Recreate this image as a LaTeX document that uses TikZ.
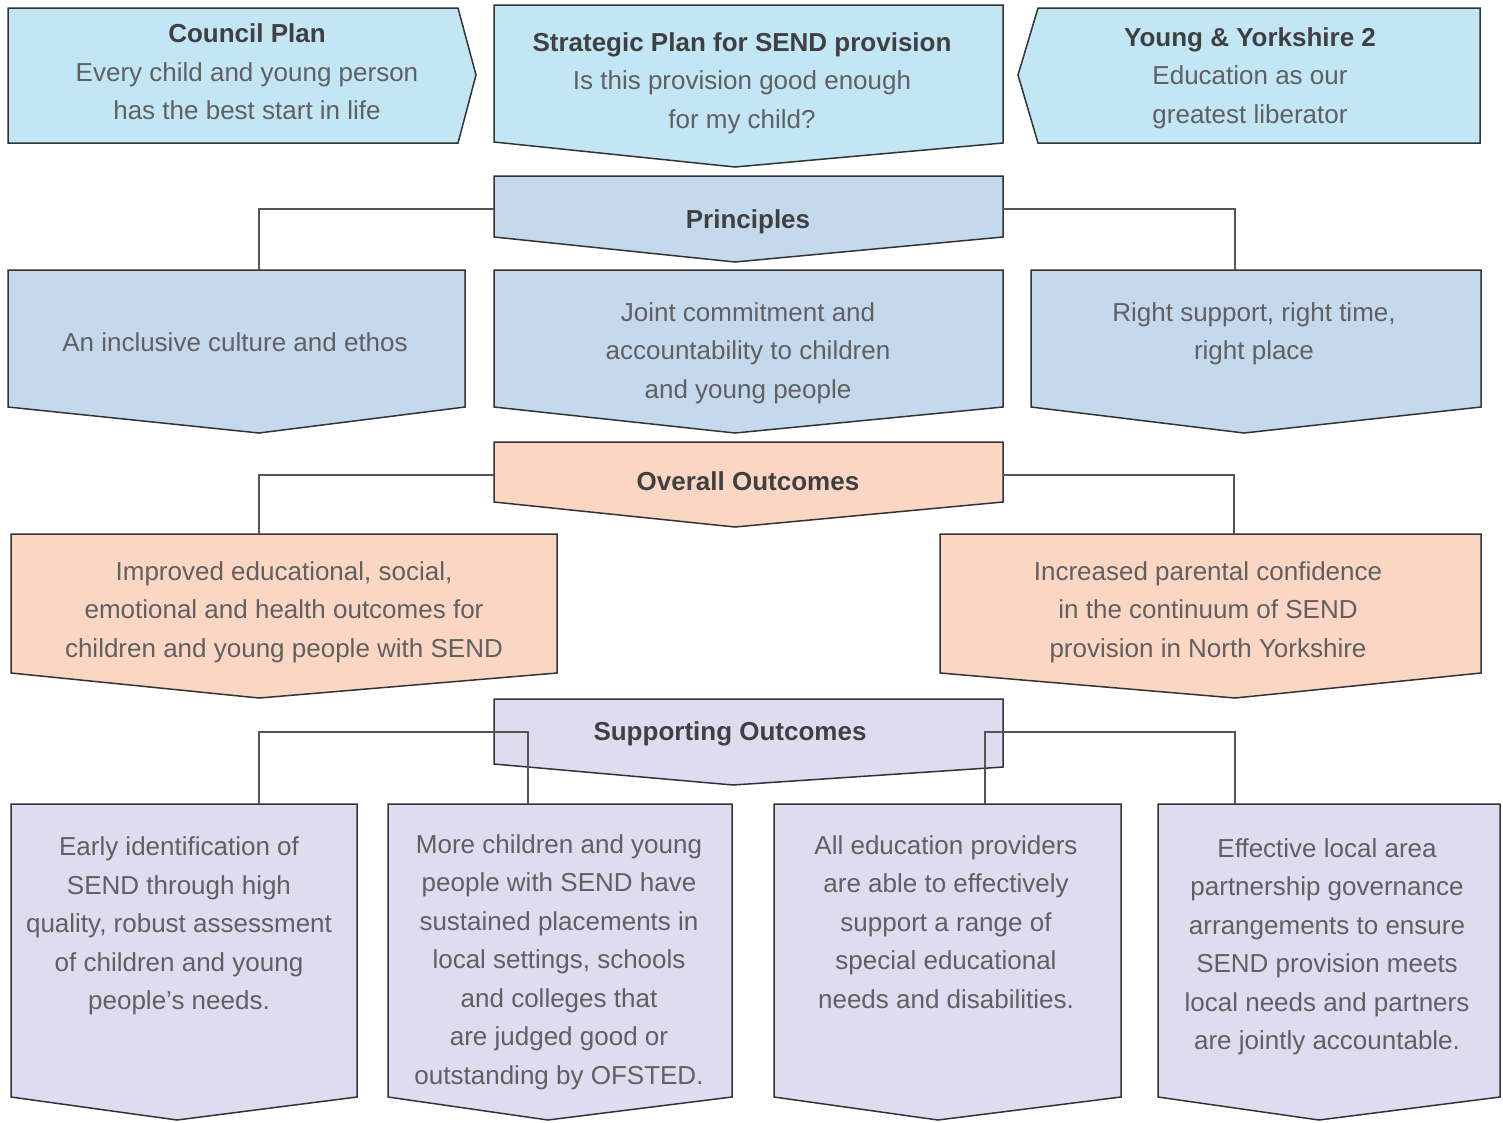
\documentclass[tikz,border=0pt]{standalone}
\usepackage{fontspec}
\setmainfont{Liberation Sans}
\usepackage{xcolor}
\usepackage{tikz}

\definecolor{planblue}{HTML}{C2E6F3}
\definecolor{prinblue}{HTML}{C5D9EC}
\definecolor{outpeach}{HTML}{FBD6C2}
\definecolor{suplilac}{HTML}{DEDCEE}
\definecolor{textgrey}{HTML}{606062}
\definecolor{titlegrey}{HTML}{404042}
\definecolor{edgegrey}{HTML}{333335}
\definecolor{linkgrey}{HTML}{555557}

\begin{document}
\begin{tikzpicture}[x=1pt,y=-1pt,
  txt/.style={align=center,inner sep=0pt,text=textgrey,font=\fontsize{26}{38.5}\selectfont},
  boxline/.style={draw=edgegrey,line width=1.5pt,line join=miter},
  linkline/.style={draw=linkgrey,line width=1.5pt}]

\useasboundingbox (0,0) rectangle (1503,1122);

% Top row of plans
\filldraw[boxline,fill=planblue] (8,8) -- (458,8) -- (476,75) -- (458,143) -- (8,143) -- cycle;
\filldraw[boxline,fill=planblue] (494,5) -- (1003,5) -- (1003,143) -- (735,167) -- (494,142) -- cycle;
\filldraw[boxline,fill=planblue] (1038,8) -- (1480,8) -- (1480,143) -- (1038,143) -- (1018,75) -- cycle;

\node[txt] (council) at (247,72) {\textcolor{titlegrey}{\bfseries Council Plan}\\Every child and young person\\has the best start in life};
\node[txt] (strategic) at (742,83) {\textcolor{titlegrey}{\bfseries Strategic Plan for SEND provision}\\Is this provision good enough\\for my child?};
\node[txt] (yorkshire) at (1250,78) {\textcolor{titlegrey}{\bfseries Young \& Yorkshire 2}\\Education as our\\greatest liberator};

% Principles
\filldraw[boxline,fill=prinblue] (494,176) -- (1003,176) -- (1003,237) -- (735,262) -- (494,237) -- cycle;
\node[txt,text=titlegrey,font=\fontsize{26}{38.5}\selectfont\bfseries] (principles) at (748,222) {Principles};

\filldraw[boxline,fill=prinblue] (8,270) -- (465,270) -- (465,407) -- (259,433) -- (8,407) -- cycle;
\filldraw[boxline,fill=prinblue] (494,270) -- (1003,270) -- (1003,407) -- (735,433) -- (494,407) -- cycle;
\filldraw[boxline,fill=prinblue] (1031,270) -- (1481,270) -- (1481,407) -- (1244,433) -- (1031,407) -- cycle;

\node[txt] (inclusive) at (235,342) {An inclusive culture and ethos};
\node[txt] (joint) at (748,353) {Joint commitment and\\accountability to children\\and young people};
\node[txt] (right) at (1254,334) {Right support, right time,\\right place};

% Overall outcomes
\filldraw[boxline,fill=outpeach] (494,442) -- (1003,442) -- (1003,502) -- (735,527) -- (494,502) -- cycle;
\node[txt,text=titlegrey,font=\fontsize{26}{38.5}\selectfont\bfseries] (overall) at (748,481) {Overall Outcomes};

\filldraw[boxline,fill=outpeach] (11,534) -- (557,534) -- (557,673) -- (259,698) -- (11,673) -- cycle;
\filldraw[boxline,fill=outpeach] (940,534) -- (1481,534) -- (1481,673) -- (1235,698) -- (940,673) -- cycle;

\node[txt] (improved) at (284,612) {Improved educational, social,\\emotional and health outcomes for\\children and young people with SEND};
\node[txt] (confidence) at (1208,612) {Increased parental confidence\\in the continuum of SEND\\provision in North Yorkshire};

% Supporting outcomes
\filldraw[boxline,fill=suplilac] (494,699) -- (1003,699) -- (1003,767) -- (733,785) -- (494,764) -- cycle;
\node[txt,text=titlegrey,font=\fontsize{26}{38.5}\selectfont\bfseries] (supporting) at (730,734) {Supporting Outcomes};

\filldraw[boxline,fill=suplilac] (11,804) -- (357,804) -- (357,1097) -- (177,1120) -- (11,1097) -- cycle;
\filldraw[boxline,fill=suplilac] (388,804) -- (732,804) -- (732,1097) -- (548,1120) -- (388,1097) -- cycle;
\filldraw[boxline,fill=suplilac] (774,804) -- (1121,804) -- (1121,1097) -- (938,1120) -- (774,1097) -- cycle;
\filldraw[boxline,fill=suplilac] (1158,804) -- (1500,804) -- (1500,1097) -- (1319,1120) -- (1158,1097) -- cycle;

\node[txt] (early) at (179,926) {Early identification of\\SEND through high\\quality, robust assessment\\of children and young\\people's needs.};
\node[txt] (placements) at (559,962) {More children and young\\people with SEND have\\sustained placements in\\local settings, schools\\and colleges that\\are judged good or\\outstanding by OFSTED.};
\node[txt] (providers) at (946,922) {All education providers\\are able to effectively\\support a range of\\special educational\\needs and disabilities.};
\node[txt] (governance) at (1327,947) {Effective local area\\partnership governance\\arrangements to ensure\\SEND provision meets\\local needs and partners\\are jointly accountable.};

% Connector ends
\coordinate (prinW) at (494,209);
\coordinate (prinE) at (1003,209);
\coordinate (inclusiveN) at (259,270);
\coordinate (rightN) at (1235,270);
\coordinate (overallW) at (494,475);
\coordinate (overallE) at (1003,475);
\coordinate (improvedN) at (259,534);
\coordinate (confidenceN) at (1234,534);
\coordinate (earlyN) at (259,804);
\coordinate (placementsN) at (528,804);
\coordinate (providersN) at (985,804);
\coordinate (governanceN) at (1235,804);

% Connectors
\draw[linkline] (prinW) -| (inclusiveN);
\draw[linkline] (prinE) -| (rightN);
\draw[linkline] (overallW) -| (improvedN);
\draw[linkline] (overallE) -| (confidenceN);
\draw[linkline] (earlyN) -- ++(0,-72) -| (placementsN);
\draw[linkline] (governanceN) -- ++(0,-72) -| (providersN);
\end{tikzpicture}
\end{document}
